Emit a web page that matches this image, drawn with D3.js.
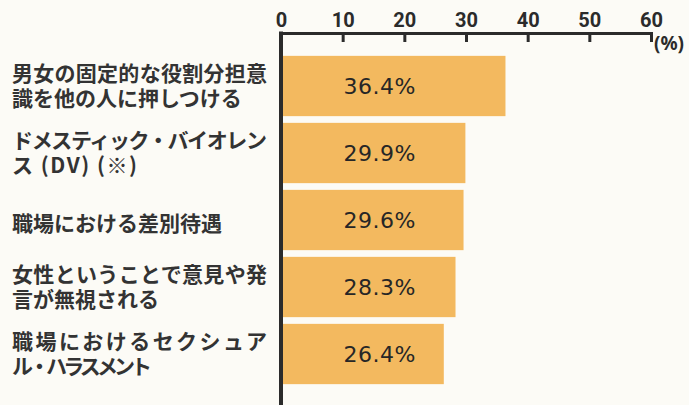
<!DOCTYPE html>
<html>
<head>
<meta charset="utf-8">
<script src="https://cdn.jsdelivr.net/npm/d3@7"></script>
<style>
  html, body { margin: 0; padding: 0; background: #fcfbf6; }
  svg { display: block; }
</style>
</head>
<body>
<div id="chart"></div>
<script>
// data
const categories = [
    ["男女の固定的な役割分担意", "識を他の人に押しつける"],
    ["ドメスティック・バイオレン", "ス (DV) (※)"],
    ["職場における差別待遇"],
    ["女性ということで意見や発", "言が無視される"],
    ["職場におけるセクシュア", "ル・ハラスメント"]
];
const values = [36.4, 29.9, 29.6, 28.3, 26.4];
const xTicks = [0, 10, 20, 30, 40, 50, 60];

let width = 689, height = 405;
let labelBox = 255;          // wrapped lines are justified to this width
const squeezed = { "ス (DV) (※)": 125, "ル・ハラスメント": 140 };

const svg = d3.select("#chart").append("svg")
    .attr("width", width)
    .attr("height", height);

// scales
const x = d3.scaleLinear().domain([0, 60]).range([281, 651]);
const y = d3.scaleBand()
    .domain(d3.range(values.length))
    .range([52.5, 387.5])
    .paddingInner(0.1)
    .paddingOuter(0.05);

const axisY = 33;

// bars
svg.append("g")
    .selectAll("rect")
    .data(values)
    .enter()
    .append("rect")
    .attr("x", x(0))
    .attr("y", (d, i) => y(i))
    .attr("width", d => x(d) - x(0))
    .attr("height", y.bandwidth())
    .attr("fill", "#f3b95f");

// value labels, all centred at same spot
svg.append("g")
    .selectAll("text")
    .data(values)
    .enter()
    .append("text")
    .attr("x", x(16))
    .attr("y", (d, i) => y(i) + y.bandwidth() / 2)
    .attr("text-anchor", "middle")
    .attr("dominant-baseline", "central")
    .style("font-family", "'DejaVu Sans', sans-serif")
    .style("font-size", "22px")
    .style("letter-spacing", "0.5px")
    .style("fill", "#262626")
    .text(d => d.toFixed(1) + "%");

// category labels, one text per line
const lineGap = 25;
const lines = [];
categories.forEach((c, i) => {
    c.forEach((t, j) => {
        lines.push({
            text: t,
            y: y(i) + y.bandwidth() / 2 - (c.length - 1) * lineGap / 2 + j * lineGap + (c.length == 1 ? 2 : -2),
            justify: c.length > 1 && j < c.length - 1
        });
    });
});
svg.append("g")
    .selectAll("text")
    .data(lines)
    .enter()
    .append("text")
    .attr("x", 12)
    .attr("y", d => d.y)
    .attr("dominant-baseline", "central")
    .attr("textLength", d => d.justify ? labelBox : (squeezed[d.text] || null))
    .attr("lengthAdjust", "spacing")
    .style("font-family", "'Noto Sans CJK JP', sans-serif")
    .style("font-size", "21px")
    .style("font-weight", "bold")
    .style("fill", "#333")
    .text(d => d.text);

// top axis, ticks pointing down
const axis = d3.axisTop(x)
    .tickValues(xTicks)
    .tickSizeInner(-9)
    .tickSizeOuter(-9)
    .tickPadding(6);

const gx = svg.append("g")
    .attr("transform", "translate(0," + axisY + ")")
    .call(axis);
gx.select(".domain").attr("stroke", "#2b2b2b").attr("stroke-width", 3);
gx.selectAll(".tick line").attr("stroke", "#2b2b2b").attr("stroke-width", 3);
gx.selectAll(".tick text")
    .style("font-family", "Roboto, sans-serif")
    .style("font-weight", "bold")
    .style("font-size", "20px")
    .style("fill", "#2b2b2b");

// vertical axis line
svg.append("line")
    .attr("x1", x(0)).attr("x2", x(0))
    .attr("y1", axisY - 1.5).attr("y2", height)
    .attr("stroke", "#2b2b2b")
    .attr("stroke-width", 4);

// unit
svg.append("text")
    .attr("x", x(60) + 3)
    .attr("y", axisY + 10)
    .attr("dominant-baseline", "central")
    .style("font-family", "'Noto Sans', sans-serif")
    .style("font-weight", "bold")
    .style("font-size", "19px")
    .style("fill", "#2b2b2b")
    .text("(%)");
</script>
</body>
</html>
